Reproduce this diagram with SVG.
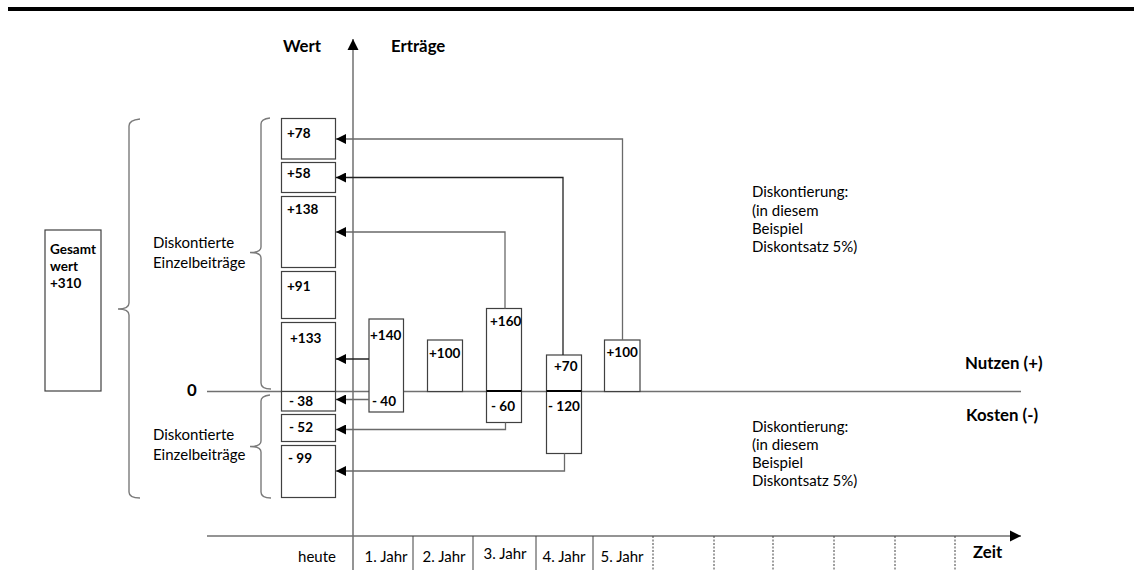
<svg xmlns="http://www.w3.org/2000/svg" width="1134" height="580" viewBox="0 0 1134 580">
<style>
text{font-family:Lato,"Open Sans","Liberation Sans",sans-serif;fill:#000}
.b{font-weight:bold;font-size:13.5px}
.r{font-size:15px}
.h{font-weight:bold;font-size:16.8px}
.box{fill:#fff;stroke:#404040;stroke-width:1.2}
.con{fill:none;stroke:#6a6a6a;stroke-width:1.3;marker-end:url(#ah)}
.brace{fill:none;stroke:#7a7a7a;stroke-width:1.4}
.axis{stroke:#707070;stroke-width:1.5;fill:none}
.sep{stroke:#404040;stroke-width:1}
.dsep{stroke:#404040;stroke-width:1;stroke-dasharray:2,1.5}
</style>
<defs>
<marker id="ah" markerUnits="userSpaceOnUse" markerWidth="11" markerHeight="10" refX="10" refY="5" orient="auto">
<path d="M0,0 L10,5 L0,10 z" fill="#000"/>
</marker>
<marker id="axh" markerUnits="userSpaceOnUse" markerWidth="12" markerHeight="12" refX="11" refY="6" orient="auto">
<path d="M0,0.5 L11,6 L0,11.5 z" fill="#000"/>
</marker>
</defs>
<rect x="8" y="7" width="1126" height="4" fill="#000"/>

<g id="axes">
<path class="axis" d="M353,570 V39" marker-end="url(#axh)"/>
<path class="axis" d="M207,536 H1021" marker-end="url(#axh)"/>
<path class="axis" d="M207,391.5 H1021"/>
<line class="sep" x1="413" y1="536" x2="413" y2="570"/>
<line class="sep" x1="473" y1="536" x2="473" y2="570"/>
<line class="sep" x1="536" y1="536" x2="536" y2="570"/>
<line class="sep" x1="593" y1="536" x2="593" y2="570"/>
<line class="dsep" x1="653" y1="536" x2="653" y2="570"/>
<line class="dsep" x1="714" y1="536" x2="714" y2="570"/>
<line class="dsep" x1="773" y1="536" x2="773" y2="570"/>
<line class="dsep" x1="834" y1="536" x2="834" y2="570"/>
<line class="dsep" x1="895" y1="536" x2="895" y2="570"/>
<line class="dsep" x1="955" y1="536" x2="955" y2="570"/>
<text class="h" x="283" y="52">Wert</text>
<text class="h" x="391" y="52">Erträge</text>
<text class="h" x="187" y="396">0</text>
<text class="h" x="965" y="369">Nutzen (+)</text>
<text class="h" x="966" y="421">Kosten (-)</text>
<text class="h" x="973" y="558">Zeit</text>
<text class="r" x="317" y="562" text-anchor="middle">heute</text>
<text class="r" x="386" y="562" text-anchor="middle">1. Jahr</text>
<text class="r" x="444" y="562" text-anchor="middle">2. Jahr</text>
<text class="r" x="505" y="559" text-anchor="middle">3. Jahr</text>
<text class="r" x="564" y="562" text-anchor="middle">4. Jahr</text>
<text class="r" x="622" y="562" text-anchor="middle">5. Jahr</text>
</g>

<g id="braces">
<path class="brace" d="M140,119 Q129,120 129,126 V303 Q129,309 118,309 Q129,309 129,315 V492 Q129,498 140,498"/>
<path class="brace" d="M270,118 Q261,119 261,124 V247 Q261,252.5 250,252.5 Q261,252.5 261,258 V383 Q261,389 271,389"/>
<path class="brace" d="M270,395 Q261,396 261,401 V441 Q261,446.5 250,446.5 Q261,446.5 261,452 V492 Q261,498 271,498"/>
</g>

<g id="total">
<rect class="box" x="45" y="230" width="56" height="161"/>
<text class="b" x="50" y="254">Gesamt</text>
<text class="b" x="50" y="271">wert</text>
<text class="b" x="50" y="288">+310</text>
</g>

<g id="labels">
<text class="r" x="153" y="248">Diskontierte</text>
<text class="r" x="153" y="268">Einzelbeiträge</text>
<text class="r" x="153" y="440">Diskontierte</text>
<text class="r" x="153" y="460">Einzelbeiträge</text>
<text class="r" x="752" y="197">Diskontierung:</text>
<text class="r" x="752" y="215.5">(in diesem</text>
<text class="r" x="752" y="234">Beispiel</text>
<text class="r" x="752" y="252">Diskontsatz 5%)</text>
<text class="r" x="752" y="431.5">Diskontierung:</text>
<text class="r" x="752" y="450">(in diesem</text>
<text class="r" x="752" y="468">Beispiel</text>
<text class="r" x="752" y="486">Diskontsatz 5%)</text>
</g>

<g id="pv78"><rect class="box" x="281.5" y="118.5" width="54" height="40.5"/><text class="b" x="287" y="138">+78</text></g>
<g id="pv58"><rect class="box" x="281.5" y="162.5" width="54" height="30"/><text class="b" x="287" y="178">+58</text></g>
<g id="pv138"><rect class="box" x="281.5" y="196.5" width="54" height="71"/><text class="b" x="287" y="214">+138</text></g>
<g id="pv91"><rect class="box" x="281.5" y="271.5" width="54" height="47"/><text class="b" x="287" y="291">+91</text></g>
<g id="pv133"><rect class="box" x="281.5" y="322.5" width="54" height="69"/><text class="b" x="290" y="343">+133</text></g>
<g id="pvm38"><rect class="box" x="281.5" y="391.5" width="54" height="19.5"/><text class="b" x="289" y="405.5">- 38</text></g>
<g id="pvm52"><rect class="box" x="281.5" y="414.5" width="54" height="27"/><text class="b" x="289" y="432">- 52</text></g>
<g id="pvm99"><rect class="box" x="281.5" y="445.5" width="54" height="52"/><text class="b" x="288" y="463">- 99</text></g>

<g id="y1"><rect class="box" x="369" y="319" width="34.5" height="93"/><text class="b" x="370" y="340">+140</text><text class="b" x="372" y="405.5">- 40</text></g>
<g id="y2"><rect class="box" x="427.5" y="340" width="35" height="51.5"/><text class="b" x="429" y="358">+100</text></g>
<g id="y3"><rect class="box" x="486.5" y="308.5" width="35" height="114"/><line x1="486.5" y1="391" x2="521.5" y2="391" stroke="#000" stroke-width="1.8"/><text class="b" x="490" y="325.5">+160</text><text class="b" x="491" y="411">- 60</text></g>
<g id="y4"><rect class="box" x="546.5" y="355" width="35" height="98.5"/><line x1="546.5" y1="391" x2="581.5" y2="391" stroke="#000" stroke-width="1.8"/><text class="b" x="554" y="371">+70</text><text class="b" x="548" y="411">- 120</text></g>
<g id="y5"><rect class="box" x="604.5" y="340" width="35.5" height="51.5"/><text class="b" x="606.5" y="357">+100</text></g>

<g id="connectors">
<path class="con" d="M622.5,340 V139 H336"/>
<path class="con" d="M563,355 V177.5 H336" style="stroke:#222"/>
<path class="con" d="M505,308.5 V232 H336"/>
<path class="con" d="M369,359 H336" style="stroke:#222"/>
<path class="con" d="M369,399.5 H336"/>
<path class="con" d="M505.5,422.5 V429.5 H336"/>
<path class="con" d="M564.5,453.5 V471 H336"/>
</g>
</svg>
